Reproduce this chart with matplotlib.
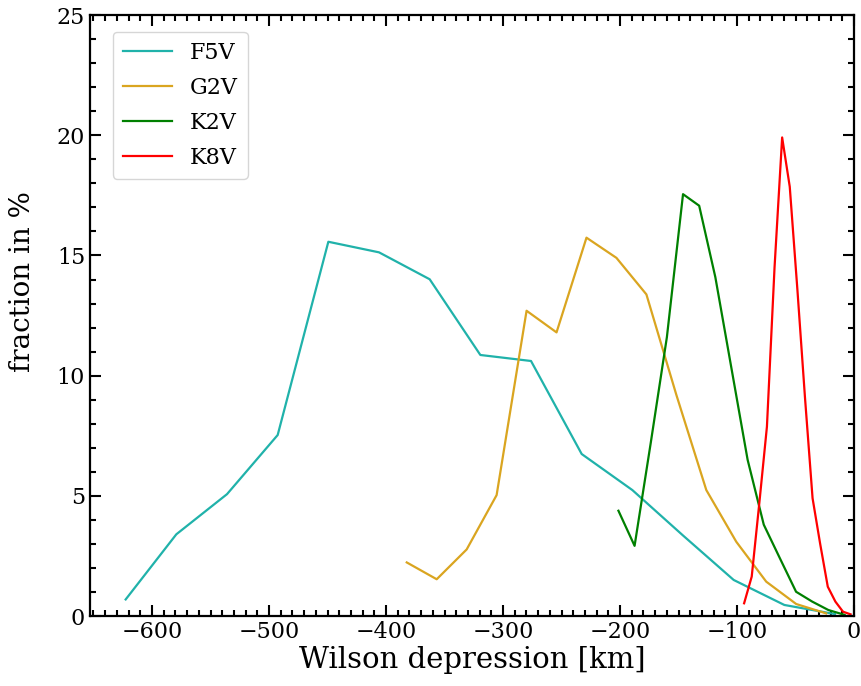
import matplotlib
matplotlib.use("Agg")
import matplotlib.pyplot as plt
from matplotlib.ticker import MultipleLocator

plt.rcParams["font.family"] = ["DejaVu Serif"]
plt.rcParams["mathtext.fontset"] = "dejavuserif"

# Wilson depression [km] and fraction [%] per spectral type
f5v_x = [-622.5, -579.2, -535.9, -492.6, -449.3, -406.0, -362.7, -319.4,
         -276.1, -232.8, -189.5, -146.2, -102.9, -59.6, -16.3]
f5v_y = [0.69, 3.40, 5.07, 7.53, 15.57, 15.13, 14.01, 10.86,
         10.61, 6.74, 5.24, 3.35, 1.50, 0.46, 0.08]

g2v_x = [-382.3, -356.7, -331.1, -305.5, -279.9, -254.3, -228.7, -203.1,
         -177.5, -151.9, -126.3, -100.7, -75.1, -49.5, -23.9]
g2v_y = [2.23, 1.53, 2.77, 5.03, 12.70, 11.80, 15.74, 14.90,
         13.38, 9.2, 5.24, 3.09, 1.43, 0.50, 0.11]

k2v_x = [-201.4, -187.6, -173.8, -160.0, -146.2, -132.4, -118.6, -104.8,
         -91.0, -77.2, -63.4, -49.6, -35.8, -22.0, -8.2]
k2v_y = [4.38, 2.92, 7.2, 11.6, 17.55, 17.07, 14.1, 10.3,
         6.5, 3.8, 2.4, 1.01, 0.6, 0.25, 0.05]

k8v_x = [-94.0, -87.5, -81.0, -74.5, -68.0, -61.5, -55.0, -48.5,
         -42.0, -35.5, -29.0, -22.5, -16.0, -9.5, -3.0]
k8v_y = [0.53, 1.64, 4.7, 7.88, 14.5, 19.91, 17.86, 13.6,
         9.1, 4.9, 3.0, 1.22, 0.6, 0.18, 0.07]

series = [
    ("F5V", f5v_x, f5v_y, "#20B2AA"),
    ("G2V", g2v_x, g2v_y, "#DAA520"),
    ("K2V", k2v_x, k2v_y, "green"),
    ("K8V", k8v_x, k8v_y, "red"),
]

fig = plt.figure(figsize=(8.61, 6.86), dpi=100)
ax = fig.add_axes([0.1045, 0.102, 0.8875, 0.876])

for name, xs, ys, col in series:
    ax.plot(xs, ys, color=col, lw=1.6, label=name)

ax.set_xlim(-653, 0)
ax.set_ylim(0, 25)
ax.xaxis.set_major_locator(MultipleLocator(100))
ax.xaxis.set_minor_locator(MultipleLocator(10))
ax.yaxis.set_major_locator(MultipleLocator(5))
ax.yaxis.set_minor_locator(MultipleLocator(1))
ax.tick_params(which="both", direction="in", top=True, right=True,
               width=1.5, labelsize=16)
ax.tick_params(which="major", length=8)
ax.tick_params(which="minor", length=4)
for sp in ax.spines.values():
    sp.set_linewidth(1.6)

ax.set_xlabel("Wilson depression [km]", fontsize=21, labelpad=2)
ax.set_ylabel("fraction in %", fontsize=20)
ax.yaxis.set_label_coords(-0.07, 0.556)

ax.legend(loc="upper left", bbox_to_anchor=(0.030, 0.972), borderaxespad=0,
          fontsize=16, handlelength=2.2, borderpad=0.45,
          labelspacing=0.58, handletextpad=0.8)

fig.savefig("out.png", dpi=100)
